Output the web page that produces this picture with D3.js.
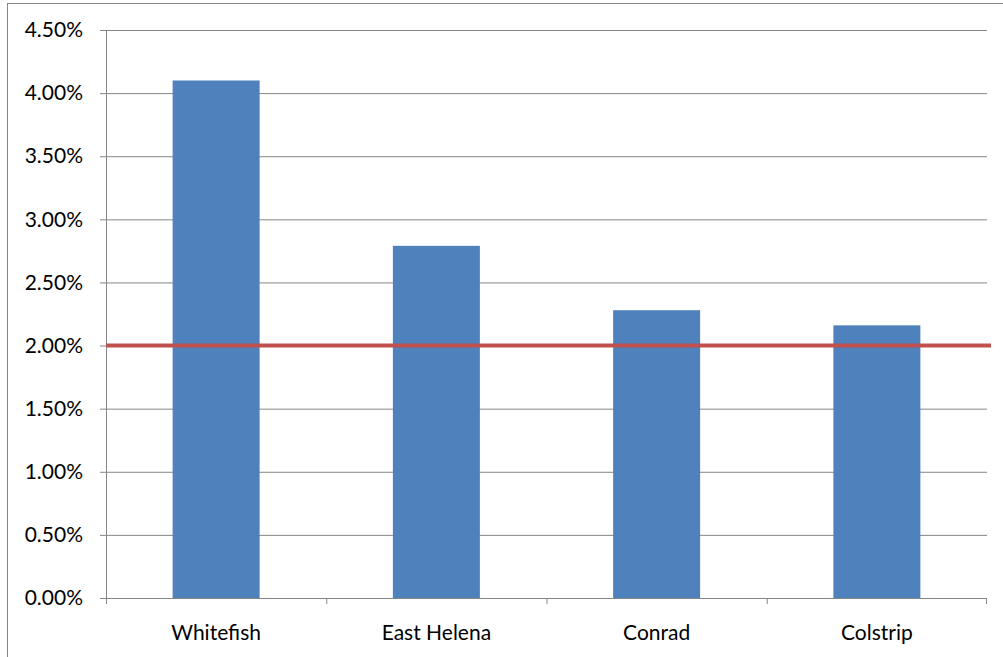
<!DOCTYPE html>
<html>
<head>
<meta charset="utf-8">
<script src="https://cdn.jsdelivr.net/npm/d3@7"></script>
<style>
  body { margin: 0; background: #fff; }
  text { font-family: Lato, "Open Sans", sans-serif; fill: #000; }
</style>
</head>
<body>
<div id="chart"></div>
<script>
// chart data
var towns = ["Whitefish", "East Helena", "Conrad", "Colstrip"];
var rates = [0.0410, 0.0279, 0.0228, 0.0216];
var yTicks = [0, 0.005, 0.01, 0.015, 0.02, 0.025, 0.03, 0.035, 0.04, 0.045];
var target = [0.02];

var margin = { left: 106, right: 16, top: 30, bottom: 59 };
var W = 1003, H = 657;
var width = W - margin.left - margin.right;
var height = H - margin.top - margin.bottom;

var svg = d3.select("#chart")
    .append("svg")
    .attr("width", W)
    .attr("height", H);

// outer frame (runs off the right and bottom edge)
svg.append("rect")
    .attr("x", 7.5).attr("y", 3.5)
    .attr("width", W + 10).attr("height", H + 10)
    .attr("fill", "none")
    .attr("stroke", "#868686")
    .attr("stroke-width", 1);

var g = svg.append("g")
    .attr("transform", "translate(" + margin.left + "," + margin.top + ")");

var x = d3.scaleBand()
    .domain(towns)
    .range([0, width])
    .paddingInner(0.605)
    .paddingOuter(0.3025);

var xTick = d3.scaleBand().domain(towns).range([0, width]);

var y = d3.scaleLinear()
    .domain([0, 0.045])
    .range([height, 0]);

// gridlines + y ticks
g.append("g")
    .attr("class", "y-axis")
    .call(d3.axisLeft(y)
        .tickValues(yTicks)
        .tickSize(-width)
        .tickPadding(23)
        .tickFormat(d3.format(".2%")))
    .call(function(a) {
        a.select(".domain").remove();
        a.selectAll(".tick line")
            .attr("x1", -6)
            .attr("stroke", "#868686");
        a.selectAll(".tick text")
            .attr("font-size", "21px")
            .attr("font-family", "Lato, sans-serif");
    });

// y axis line
g.append("line")
    .attr("x1", 0.5).attr("x2", 0.5)
    .attr("y1", 0).attr("y2", height)
    .attr("stroke", "#868686");

// bars
g.selectAll("rect.bar")
    .data(rates)
    .enter()
    .append("rect")
    .attr("class", "bar")
    .attr("x", function(d, i) { return x(towns[i]); })
    .attr("y", function(d) { return y(d); })
    .attr("width", x.bandwidth())
    .attr("height", function(d) { return height - y(d); })
    .attr("fill", "#4F81BD");

// x axis
var xAxis = g.append("g")
    .attr("transform", "translate(0," + height + ")");
xAxis.append("line")
    .attr("x1", 0).attr("x2", width)
    .attr("y1", 0.5).attr("y2", 0.5)
    .attr("stroke", "#868686");
xAxis.selectAll("line.tk")
    .data(towns.concat(["end"]))
    .enter()
    .append("line")
    .attr("class", "tk")
    .attr("x1", function(d, i) { return i < towns.length ? xTick(d) + 0.5 : width - 0.5; })
    .attr("x2", function(d, i) { return i < towns.length ? xTick(d) + 0.5 : width - 0.5; })
    .attr("y1", 0).attr("y2", 6)
    .attr("stroke", "#868686");
xAxis.selectAll("text")
    .data(towns)
    .enter()
    .append("text")
    .attr("x", function(d) { return xTick(d) + xTick.bandwidth() / 2; })
    .attr("y", 42)
    .attr("text-anchor", "middle")
    .attr("font-size", "21px")
    .text(function(d) { return d; });

// 2% target line
g.selectAll("line.target")
    .data(target)
    .enter()
    .append("line")
    .attr("class", "target")
    .attr("x1", 0)
    .attr("x2", width + 4)
    .attr("y1", function(d) { return y(d); })
    .attr("y2", function(d) { return y(d); })
    .attr("stroke", "#C0504D")
    .attr("stroke-width", 4);
</script>
</body>
</html>
